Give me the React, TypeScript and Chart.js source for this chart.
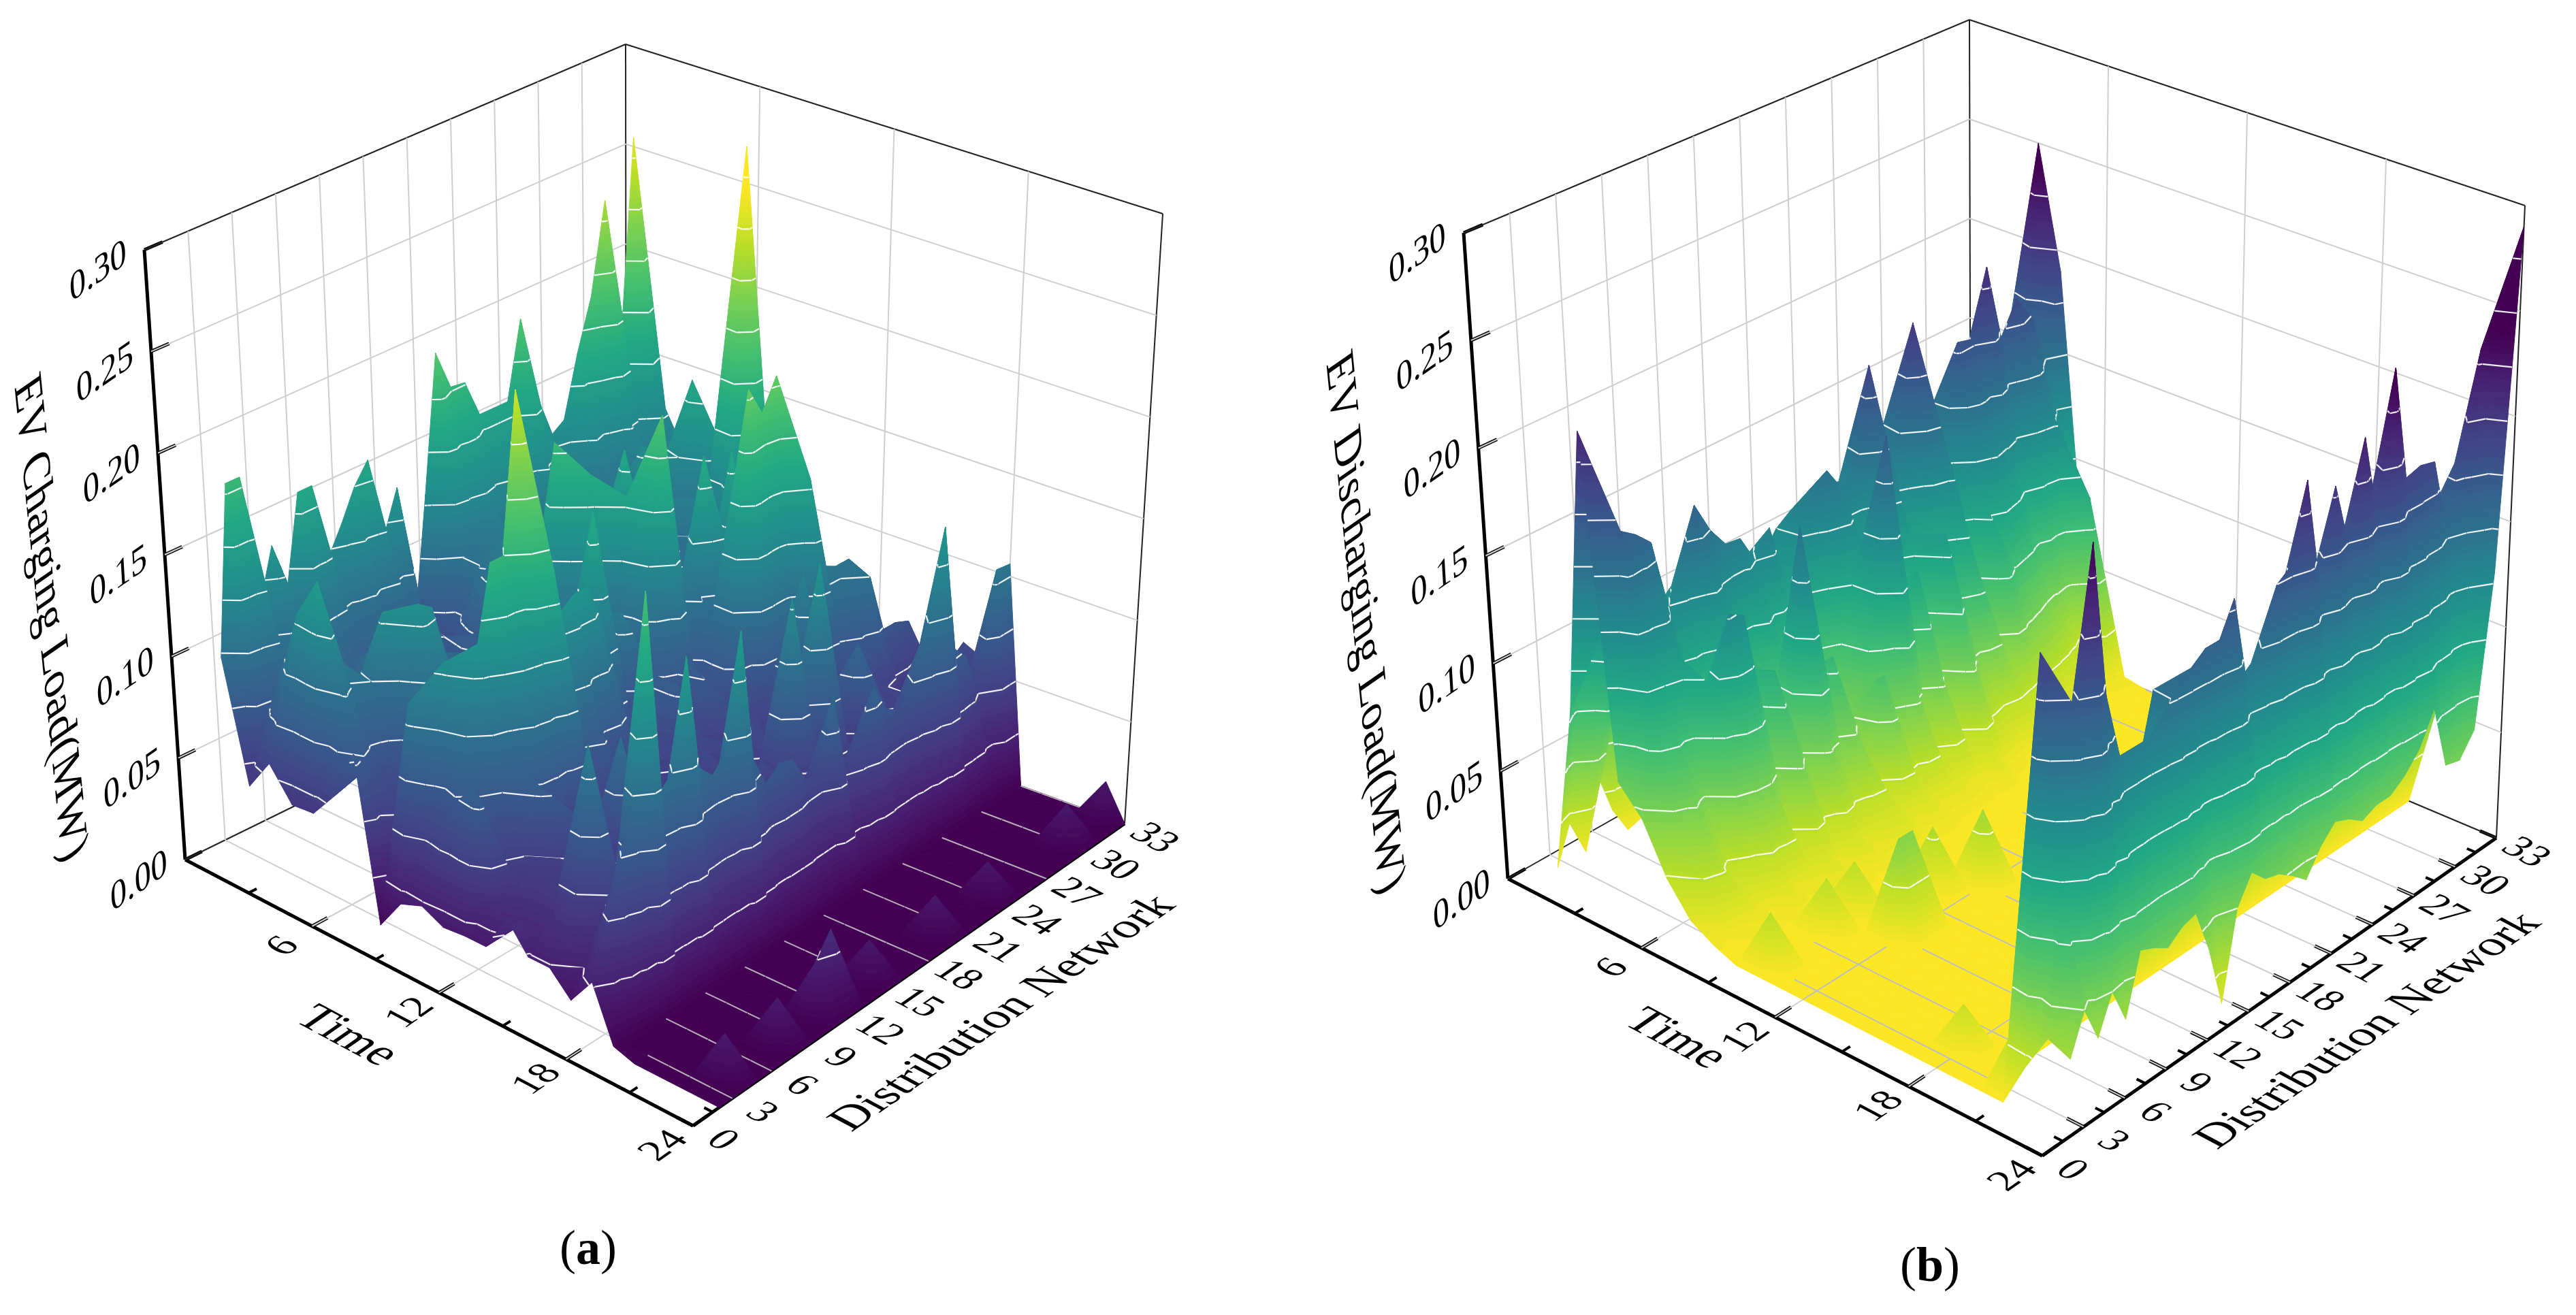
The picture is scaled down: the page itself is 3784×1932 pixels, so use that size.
import React, { useEffect, useRef } from "react";
import { Chart, registerables } from "chart.js";
Chart.register(...registerables);

const timeSteps = [1,2,3,4,5,6,7,8,9,10,11,12,13,14,15,16,17,18,19,20,21,22,23,24];
const networks = [2,3,4,5,6,7,8,9,10,11,12,13,14,15,16,17,18,19,20,21,22,23,24,25,26,27,28,29,30,31,32,33];
const timeTicks = [6,12,18,24];
const timeMinor = [3,9,15,21];
const networkTicks = [0,3,6,9,12,15,18,21,24,27,30,33];
const networkMinor = [1.5,4.5,7.5,10.5,13.5,16.5,19.5,22.5,25.5,28.5,31.5];
const loadTicks = [0,0.05,0.1,0.15,0.2,0.25,0.3];
const viridis = ["#440154","#482475","#414487","#355f8d","#2a788e","#21918c","#22a884","#44bf70","#7ad151","#bddf26","#fde725"];
const quiet = [0,0,0,0,0,0,0,0,0,0,0,0,0,0,0,0,0,0,0,0,0,0,0,0,0,0,0,0,0,0,0,0];

// load in kW, rows by time step, columns by network
const chargeLoad = [
[98,180,180,115,140,118,160,160,122,135,150,160,120,140,70,130,197,177,176,157,157,157,195,155,130,135,165,190,235,150,260,120],
[40,60,70,90,80,95,100,95,90,85,90,70,85,80,40,60,100,110,120,110,120,120,130,115,110,100,120,110,130,115,140,110],
[56,90,110,80,90,70,85,80,75,95,100,80,60,75,60,90,105,100,110,90,95,100,110,90,110,100,95,85,95,100,105,100],
[41,130,120,85,70,85,95,90,100,90,70,60,65,80,70,110,95,120,100,95,120,85,100,90,85,100,130,110,120,130,115,100],
[42,150,110,85,95,100,75,85,80,90,70,65,80,75,85,95,105,90,115,100,95,110,100,105,115,95,110,125,160,110,100,85],
[55,105,90,100,130,90,85,75,70,85,90,75,95,80,70,90,100,120,105,95,120,90,110,85,100,115,95,105,140,95,90,80],
[80,70,60,65,85,135,130,95,80,75,85,90,80,85,110,180,105,95,100,115,160,100,85,110,90,100,115,110,85,90,75,70],
[4,30,55,60,70,85,95,70,80,60,85,95,60,105,65,100,165,80,95,70,120,75,105,70,85,95,130,290,120,85,80,75],
[19,110,55,50,65,75,70,100,65,95,60,90,65,110,65,105,70,155,80,110,70,100,70,95,65,85,110,80,75,80,70,70],
[23,60,130,65,55,70,85,60,110,70,100,60,110,165,70,110,70,125,195,90,115,165,80,160,70,110,80,90,65,85,60,75],
[18,72,100,140,175,175,250,185,140,135,140,140,120,75,70,60,80,60,85,60,90,70,100,65,90,60,80,60,70,60,70,60],
[19,85,60,75,90,120,130,165,100,75,85,60,70,55,60,55,80,60,75,60,95,205,190,205,150,105,70,75,60,65,60,55],
[19,35,45,50,80,50,55,50,65,50,60,50,60,45,50,55,60,45,55,60,55,60,70,70,155,105,105,105,60,50,50,45],
[37,30,40,45,50,68,45,50,60,45,60,50,45,50,45,60,50,55,65,55,50,60,120,65,60,70,85,100,70,70,67,50],
[24,30,40,50,40,45,50,100,45,40,50,45,40,50,40,45,45,40,50,45,50,98,60,50,45,40,55,50,40,40,35,30],
[24,35,50,115,50,45,55,50,45,55,50,45,55,50,45,55,60,50,130,70,140,50,45,90,60,50,55,50,45,40,50,60],
[14,25,35,40,45,35,40,45,40,35,40,45,40,35,40,45,35,40,30,35,40,45,50,45,55,50,45,40,35,30,45,55],
[27,45,70,95,190,94,100,150,95,88,95,148,85,69,75,73,60,57,92,50,67,85,70,66,75,100,143,80,72,50,107,106],
[3,0,0,0,0,0,0,0,0,0,0,0,0,0,0,0,0,0,0,0,0,0,0,0,0,0,0,0,0,0,0,0],
quiet,
quiet,
quiet,
[0,0,20,0,0,0,20,0,0,25,35,0,0,18,0,0,0,0,18,0,0,0,17,0,0,0,0,0,19,0,0,17],
quiet,
];

const dischargeLoad = [
[3,20,3,37,15,2,4,30,40,50,50,60,60,60,70,70,80,80,80,80,90,90,90,90,100,100,100,100,100,100,100,100],
[80,110,60,70,80,100,105,100,100,95,100,95,90,95,100,100,110,105,110,100,115,120,110,115,120,125,120,130,135,140,130,150],
[215,120,110,90,100,110,125,110,120,115,110,120,115,125,130,120,135,125,130,120,140,135,130,135,140,135,130,140,150,145,160,250],
[58,170,165,158,124,140,165,150,140,139,125,137,108,120,141,150,138,139,190,128,150,200,135,130,180,178,210,170,187,175,150,190],
[46,90,100,110,80,60,55,90,60,50,85,70,55,45,70,100,110,70,90,110,80,110,130,90,110,130,120,100,120,130,100,65],
[24,40,55,45,95,127,123,60,90,60,150,60,82,50,60,90,172,70,100,60,110,70,90,50,90,70,60,50,40,30,90,18],
[10,25,30,20,30,45,50,25,55,35,55,40,50,30,70,40,60,30,55,25,60,35,30,35,30,25,20,15,10,5,8,2],
[4,3,6,8,6,12,8,10,14,8,16,10,15,18,10,14,10,12,10,8,14,6,4,0,0,0,0,0,0,0,0,0],
[0,0,2,3,2,4,3,5,4,5,3,5,4,6,3,4,3,2,3,2,3,0,0,0,0,0,0,0,0,0,0,0],
[0,25,0,0,0,25,0,25,0,0,0,0,0,0,0,0,0,0,0,0,0,0,0,0,0,0,0,0,0,0,0,0],
[0,0,0,0,0,0,0,0,0,0,0,30,0,0,0,0,0,0,0,0,0,0,0,0,0,0,0,0,0,0,0,0],
[0,0,0,0,0,0,0,45,45,0,0,0,0,35,0,0,0,0,0,0,0,0,0,0,0,0,0,0,0,0,0,0],
quiet,
quiet,
quiet,
quiet,
quiet,
[0,0,20,0,0,0,0,0,0,0,0,0,0,0,0,0,0,0,0,0,0,0,0,0,0,0,0,0,0,0,0,0],
quiet,
quiet,
[0,30,35,60,50,40,45,40,40,45,40,50,45,40,50,45,50,55,50,45,50,55,50,45,50,55,50,45,50,55,50,45],
[20,195,110,90,70,80,90,100,120,150,120,120,125,130,125,120,130,135,140,130,140,135,150,140,150,145,150,145,150,140,150,160],
[37,90,170,240,170,140,140,140,145,155,160,165,165,180,138,150,175,180,215,165,205,175,220,180,245,190,192,190,155,190,232,160],
[33,50,34,50,34,60,57,53,58,60,40,12,50,62,55,53,48,42,53,60,57,52,55,55,60,68,83,52,50,60,130,290],
];

type V = [number, number];
const FONT = '"Liberation Serif"';
const tDir: V = [0.88, 0.47];
const nDir: V = [0.82, -0.57];
const backUp: V = [-0.88, -0.47];

const panels = [
  {
    load: chargeLoad, xMin: 0, xMax: 1892,
    colour: (z: number) => z / 0.27,
    corners: { c000: [272,1263], c100: [1018,1654], c110: [1652,1210], c010: [920,945], c001: [212,367], c101: [1028,640], c111: [1708,314], c011: [919,65] },
    zTitle: "EV Charging Load(MW)", zTitlePos: [72,910], zTitleDir: [0.1,0.995] as V,
    timePos: [509,1523], netPos: [1474,1489], cap: "a", capPos: [864,1838],
    floorLine: "rgba(205,205,205,0.85)",
  },
  {
    load: dischargeLoad, xMin: 1892, xMax: 3784,
    colour: (z: number) => 1 - z / 0.24,
    corners: { c000: [2215,1291], c100: [3000,1698], c110: [3667,1231], c010: [2895,905], c001: [2150,342], c101: [3005,660], c111: [3709,302], c011: [2893,29] },
    zTitle: "EV Discharging Load(MW)", zTitlePos: [2003,917], zTitleDir: [0.1,0.995] as V,
    timePos: [2461,1527], netPos: [3480,1515], cap: "b", capPos: [2835,1863],
    floorLine: "rgba(190,190,190,1)",
  },
];

function project(c: any, t: number, n: number, z: number) {
  const u = t / 24, v = n / 33, w = z / 0.3;
  const out = [0, 0];
  for (let i = 0; i < 2; i++) {
    const f0 = c.c000[i]*(1-u)*(1-v) + c.c100[i]*u*(1-v) + c.c110[i]*u*v + c.c010[i]*(1-u)*v;
    const f1 = c.c001[i]*(1-u)*(1-v) + c.c101[i]*u*(1-v) + c.c111[i]*u*v + c.c011[i]*(1-u)*v;
    out[i] = f0*(1-w) + f1*w;
  }
  return { x: out[0], y: out[1] };
}

function hexToRgb(h: string) {
  return [parseInt(h.slice(1,3),16), parseInt(h.slice(3,5),16), parseInt(h.slice(5,7),16)];
}
const stops = viridis.map(hexToRgb);
function viridisAt(v: number) {
  const s = Math.max(0, Math.min(1, v)) * (stops.length - 1);
  const i = Math.min(stops.length - 2, Math.floor(s));
  const f = s - i;
  const a = stops[i], b = stops[i + 1];
  return `rgb(${Math.round(a[0]+(b[0]-a[0])*f)},${Math.round(a[1]+(b[1]-a[1])*f)},${Math.round(a[2]+(b[2]-a[2])*f)})`;
}

type P = [number, number, number];
function clip(poly: P[], level: number, above: boolean) {
  const out: P[] = [];
  for (let i = 0; i < poly.length; i++) {
    const a = poly[i], b = poly[(i + 1) % poly.length];
    const ia = above ? a[2] >= level : a[2] <= level;
    const ib = above ? b[2] >= level : b[2] <= level;
    if (ia) out.push(a);
    if (ia !== ib) {
      const f = (level - a[2]) / (b[2] - a[2]);
      out.push([a[0]+(b[0]-a[0])*f, a[1]+(b[1]-a[1])*f, level]);
    }
  }
  return out;
}

const BAND = 0.003, CONTOUR = 0.025;
function drawTri(ctx: CanvasRenderingContext2D, a: P, b: P, c: P, colour: (z: number) => number) {
  const lo = Math.min(a[2], b[2], c[2]), hi = Math.max(a[2], b[2], c[2]);
  const fillPoly = (poly: P[], z: number) => {
    if (poly.length < 3) return;
    const col = viridisAt(colour(z));
    ctx.fillStyle = col; ctx.strokeStyle = col; ctx.lineWidth = 1;
    ctx.beginPath();
    poly.forEach((p, i) => (i ? ctx.lineTo(p[0], p[1]) : ctx.moveTo(p[0], p[1])));
    ctx.closePath(); ctx.fill(); ctx.stroke();
  };
  if (hi - lo < 1e-6) { fillPoly([a, b, c], lo); return; }
  const k0 = Math.floor(lo / BAND), k1 = Math.floor(hi / BAND);
  for (let k = k0; k <= k1; k++) {
    const l0 = k * BAND, l1 = (k + 1) * BAND;
    fillPoly(clip(clip([a, b, c], l0, true), l1, false), (l0 + l1) / 2);
  }
  const c0 = Math.ceil(lo / CONTOUR), c1 = Math.floor(hi / CONTOUR);
  ctx.strokeStyle = "rgba(255,255,255,0.92)"; ctx.lineWidth = 2.2;
  for (let k = Math.max(c0, 1); k <= c1; k++) {
    const lv = k * CONTOUR + 1e-7;
    const pts: number[][] = [];
    for (const [p, q] of [[a, b], [b, c], [c, a]] as P[][]) {
      if ((p[2] - lv) * (q[2] - lv) < 0) {
        const f = (lv - p[2]) / (q[2] - p[2]);
        pts.push([p[0]+(q[0]-p[0])*f, p[1]+(q[1]-p[1])*f]);
      }
    }
    if (pts.length === 2) {
      ctx.beginPath(); ctx.moveTo(pts[0][0], pts[0][1]); ctx.lineTo(pts[1][0], pts[1][1]); ctx.stroke();
    }
  }
}

function segment(c: any, a: number[], b: number[], color: string, width: number) {
  return {
    data: [project(c, a[0], a[1], a[2]), project(c, b[0], b[1], b[2])],
    showLine: true, borderColor: color, borderWidth: width, pointRadius: 0, fill: false, tension: 0,
  };
}

function buildDatasets(panel: any) {
  const c = panel.corners;
  const sets: any[] = [];
  const grey = "#cfcfcf", thin = "#222222", thick = "#000000";
  networkTicks.filter(n => n > 0 && n < 33).forEach(n => {
    sets.push(segment(c, [0,n,0], [0,n,0.3], grey, 2));
    sets.push(segment(c, [0,n,0], [24,n,0], grey, 2));
  });
  timeTicks.filter(t => t < 24).forEach(t => {
    sets.push(segment(c, [t,33,0], [t,33,0.3], grey, 2));
    sets.push(segment(c, [t,0,0], [t,33,0], grey, 2));
  });
  loadTicks.filter(z => z > 0 && z < 0.3).forEach(z => {
    sets.push(segment(c, [0,0,z], [0,33,z], grey, 2));
    sets.push(segment(c, [0,33,z], [24,33,z], grey, 2));
  });
  sets.push(segment(c, [0,0,0.3], [0,33,0.3], thin, 2));
  sets.push(segment(c, [0,33,0.3], [24,33,0.3], thin, 2));
  sets.push(segment(c, [0,33,0], [0,33,0.3], thin, 2));
  sets.push(segment(c, [24,33,0], [24,33,0.3], thin, 2));
  sets.push(segment(c, [0,0,0], [0,33,0], thin, 2));
  sets.push(segment(c, [0,33,0], [24,33,0], thin, 2));
  sets.push(segment(c, [0,0,0], [0,0,0.3], thick, 5));
  sets.push(segment(c, [0,0,0], [24,0,0], thick, 5));
  sets.push(segment(c, [24,0,0], [24,33,0], thick, 5));
  loadTicks.forEach(z => sets.push(segment(c, [0,0,z], [0,1.25,z], thick, 5)));
  timeTicks.forEach(t => sets.push(segment(c, [t,0,0], [t,1.15,0], thick, 5)));
  timeMinor.forEach(t => sets.push(segment(c, [t,0,0], [t,0.6,0], thick, 4)));
  networkTicks.forEach(n => sets.push(segment(c, [24,n,0], [23.25,n,0], thick, 5)));
  networkMinor.forEach(n => sets.push(segment(c, [24,n,0], [23.6,n,0], thick, 4)));
  timeSteps.forEach((t, i) => {
    sets.push({
      label: `Time ${t}`,
      surfaceRow: i,
      showLine: false, pointRadius: 0,
      data: networks.map((n, j) => {
        const z = panel.load[i][j] / 1000;
        return { ...project(c, t, n, z), z };
      }),
    });
  });
  return sets;
}

function planeText(ctx: CanvasRenderingContext2D, s: string, x: number, y: number, dir: V, up: V, font: string) {
  ctx.save();
  ctx.transform(dir[0], dir[1], -up[0], -up[1], x, y);
  ctx.font = font; ctx.fillStyle = "#000"; ctx.textAlign = "center"; ctx.textBaseline = "middle";
  ctx.fillText(s, 0, 0);
  ctx.restore();
}

function makePlugins(panel: any) {
  const c = panel.corners;
  return [{
    id: "surface",
    afterDatasetsDraw(chart: any) {
      const ctx: CanvasRenderingContext2D = chart.ctx;
      const rows: any[] = [];
      chart.data.datasets.forEach((d: any, i: number) => {
        if (d.surfaceRow !== undefined) rows[d.surfaceRow] = { meta: chart.getDatasetMeta(i).data, raw: d.data };
      });
      const pt = (r: number, j: number): P => [rows[r].meta[j].x, rows[r].meta[j].y, rows[r].raw[j].z];
      ctx.save();
      ctx.lineJoin = "round";
      for (let r = 0; r < rows.length - 1; r++) {
        for (let j = networks.length - 2; j >= 0; j--) {
          const far = pt(r, j + 1), b = pt(r, j), e = pt(r + 1, j + 1), near = pt(r + 1, j);
          drawTri(ctx, far, b, e, panel.colour);
          drawTri(ctx, b, e, near, panel.colour);
          if (Math.max(far[2], b[2], e[2], near[2]) < 0.0005) {
            ctx.strokeStyle = panel.floorLine; ctx.lineWidth = 2;
            if (networks[j + 1] % 3 === 0) {
              ctx.beginPath(); ctx.moveTo(far[0], far[1]); ctx.lineTo(e[0], e[1]); ctx.stroke();
            }
            if (timeSteps[r] % 6 === 0) {
              ctx.beginPath(); ctx.moveTo(far[0], far[1]); ctx.lineTo(b[0], b[1]); ctx.stroke();
            }
          }
        }
      }
      ctx.restore();
    },
    afterDraw(chart: any) {
      const ctx: CanvasRenderingContext2D = chart.ctx;
      const sx = chart.scales.x, sy = chart.scales.y;
      const px = (x: number) => sx.getPixelForValue(x), py = (y: number) => sy.getPixelForValue(y);
      const tickFont = `58px ${FONT}`, titleFont = `68px ${FONT}`;
      loadTicks.forEach(z => {
        const p = project(c, 0, 0, z);
        planeText(ctx, z.toFixed(2), px(p.x - 68), py(p.y + 33), nDir, [-0.06, -1], tickFont);
      });
      timeTicks.forEach(t => {
        const p = project(c, t, 0, 0);
        planeText(ctx, String(t), px(p.x - 42), py(p.y + 30), nDir, backUp, tickFont);
      });
      networkTicks.forEach(n => {
        const p = project(c, 24, n, 0);
        planeText(ctx, String(n), px(p.x + 42), py(p.y + 22), tDir, nDir, tickFont);
      });
      planeText(ctx, panel.zTitle, px(panel.zTitlePos[0]), py(panel.zTitlePos[1]), panel.zTitleDir, nDir, `70px ${FONT}`);
      planeText(ctx, "Time", px(panel.timePos[0]), py(panel.timePos[1]), tDir, nDir, `70px ${FONT}`);
      planeText(ctx, "Distribution Network", px(panel.netPos[0]), py(panel.netPos[1]), nDir, backUp, titleFont);
      // caption: regular brackets, bold letter
      ctx.save();
      ctx.textBaseline = "middle"; ctx.textAlign = "left"; ctx.fillStyle = "#000";
      const reg = `72px ${FONT}`, bold = `bold 72px ${FONT}`;
      ctx.font = reg; const wo = ctx.measureText("(").width;
      ctx.font = bold; const wl = ctx.measureText(panel.cap).width;
      let x = px(panel.capPos[0]) - (2 * wo + wl) / 2;
      const y = py(panel.capPos[1]);
      ctx.font = reg; ctx.fillText("(", x, y); x += wo;
      ctx.font = bold; ctx.fillText(panel.cap, x, y); x += wl;
      ctx.font = reg; ctx.fillText(")", x, y);
      ctx.restore();
    },
  }];
}

function Panel({ panel }: { panel: any }) {
  const ref = useRef<HTMLCanvasElement>(null);
  useEffect(() => {
    const chart = new Chart(ref.current as HTMLCanvasElement, {
      type: "scatter",
      data: { datasets: buildDatasets(panel) },
      options: {
        animation: false, responsive: false, events: [],
        layout: { padding: 0 },
        plugins: { legend: { display: false }, tooltip: { enabled: false }, title: { display: false } },
        scales: {
          x: { type: "linear", display: false, min: panel.xMin, max: panel.xMax },
          y: { type: "linear", display: false, min: 0, max: 1932, reverse: true },
        },
      },
      plugins: makePlugins(panel),
    } as any);
    return () => chart.destroy();
  }, [panel]);
  return (
    <canvas ref={ref} width={1892} height={1932}
      style={{ position: "absolute", left: panel.xMin, top: 0, width: 1892, height: 1932, display: "block" }} />
  );
}

export default function App() {
  return (
    <div style={{ position: "absolute", left: 0, top: 0, width: 3784, height: 1932, background: "#fff", overflow: "hidden" }}>
      {panels.map(p => <Panel key={p.cap} panel={p} />)}
    </div>
  );
}
